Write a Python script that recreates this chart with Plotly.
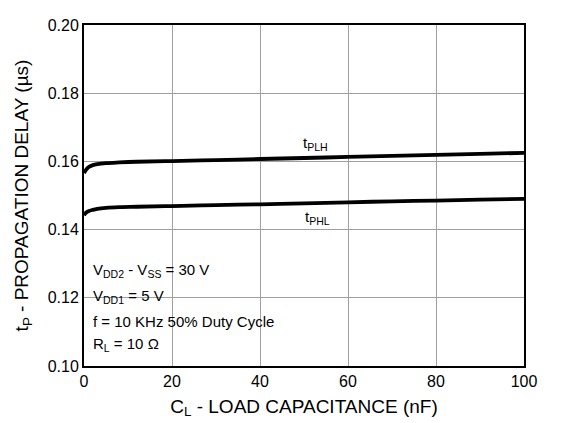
import plotly.graph_objects as go

cap_nf = [0, 0.5, 1, 2, 3, 5, 8, 12, 20, 30, 40, 50, 60, 70, 80, 90, 100]
t_plh = [0.1566, 0.1576, 0.1583, 0.1589, 0.1592, 0.1595, 0.1597, 0.1599, 0.1601, 0.1604, 0.1607, 0.1610, 0.1613, 0.1616, 0.1619, 0.1622, 0.1625]
t_phl = [0.1442, 0.1450, 0.1454, 0.1458, 0.1461, 0.1464, 0.1466, 0.1467, 0.1469, 0.1472, 0.1474, 0.1477, 0.1480, 0.1483, 0.1485, 0.1488, 0.1490]

x_ticks = [0, 20, 40, 60, 80, 100]
y_ticks = [0.10, 0.12, 0.14, 0.16, 0.18, 0.20]

FONT = "Liberation Sans, Arial, sans-serif"

fig = go.Figure()
fig.add_trace(go.Scatter(x=cap_nf, y=t_plh, mode="lines", line=dict(color="black", width=3.8, shape="spline"), showlegend=False))
fig.add_trace(go.Scatter(x=cap_nf, y=t_phl, mode="lines", line=dict(color="black", width=3.8, shape="spline"), showlegend=False))

ann = [
    (52.5, 0.1652, "t<sub>PLH</sub>"),
    (53.0, 0.1436, "t<sub>PHL</sub>"),
]
for x, y, t in ann:
    fig.add_annotation(x=x, y=y, text=t, showarrow=False, font=dict(size=15, color="black", family=FONT), xanchor="center", yanchor="middle")

notes = [
    (0.1280, "V<sub>DD2</sub> - V<sub>SS</sub> = 30 V"),
    (0.1203, "V<sub>DD1</sub> = 5 V"),
    (0.1130, "f = 10 KHz 50% Duty Cycle"),
    (0.1063, "R<sub>L</sub> = 10 Ω"),
]
for y, t in notes:
    fig.add_annotation(x=1.6, y=y, text=t, showarrow=False, font=dict(size=15, color="black", family=FONT), xanchor="left", yanchor="middle", bgcolor="rgba(0,0,0,0)")

fig.update_layout(
    width=560, height=415,
    margin=dict(l=76, r=44, t=9, b=56),
    paper_bgcolor="white", plot_bgcolor="white",
    font=dict(family=FONT, size=16, color="black"),
)
fig.update_xaxes(
    range=[0, 100], tickvals=x_ticks, ticktext=[str(v) for v in x_ticks],
    showgrid=True, gridcolor="#a0a0a0", gridwidth=1,
    showline=True, linecolor="black", linewidth=2, mirror=True,
    ticks="", zeroline=False,
    title=dict(text="C<sub>L</sub> - LOAD CAPACITANCE (nF)", font=dict(size=19), standoff=10),
)
fig.update_yaxes(
    range=[0.10, 0.20], tickvals=y_ticks, ticktext=[f"{v:.2f}" for v in y_ticks],
    showgrid=True, gridcolor="#a0a0a0", gridwidth=1,
    showline=True, linecolor="black", linewidth=2, mirror=True,
    ticks="", zeroline=False,
    title=dict(text="t<sub>P</sub> - PROPAGATION DELAY (µs)", font=dict(size=19), standoff=14),
)

fig.write_html("out.html")
